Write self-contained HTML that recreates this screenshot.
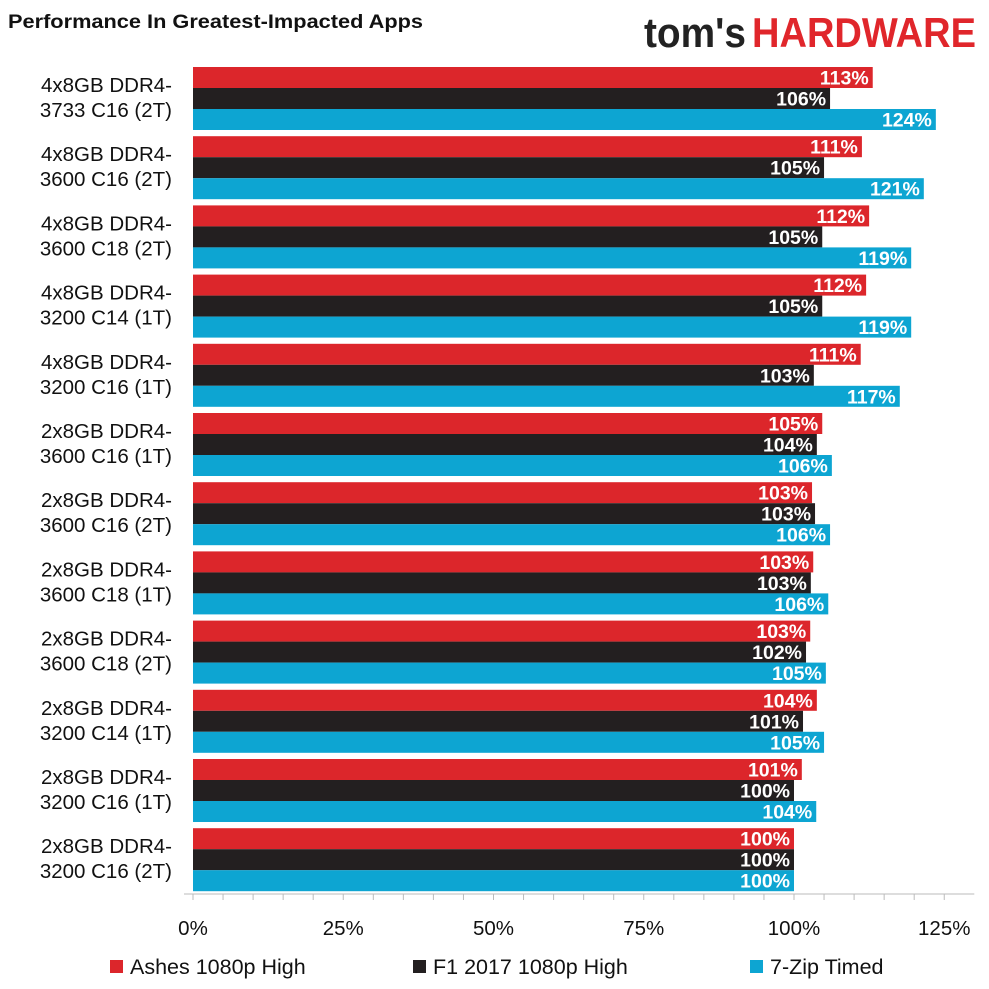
<!DOCTYPE html>
<html><head><meta charset="utf-8"><style>
body{margin:0;background:#fff;}
svg{display:block;font-family:"Liberation Sans",Calibri,sans-serif;}
</style></head><body>
<svg id="chart" width="989" height="989" viewBox="0 0 989 989" xmlns="http://www.w3.org/2000/svg">
<text x="8" y="28" font-size="19" font-weight="bold" fill="#111" textLength="415" lengthAdjust="spacingAndGlyphs">Performance In Greatest-Impacted Apps</text>
<g>
<text x="644" y="47" font-size="42" font-weight="bold" fill="#222" textLength="102" lengthAdjust="spacingAndGlyphs">tom's</text>
<text x="752" y="47" font-size="42" font-weight="bold" fill="#e0262b" textLength="224" lengthAdjust="spacingAndGlyphs">HARDWARE</text>
</g>
<g id="plot"></g>
</svg>
<script>
const categories=[["4x8GB DDR4-","3733 C16 (2T)"],["4x8GB DDR4-","3600 C16 (2T)"],["4x8GB DDR4-","3600 C18 (2T)"],["4x8GB DDR4-","3200 C14 (1T)"],["4x8GB DDR4-","3200 C16 (1T)"],["2x8GB DDR4-","3600 C16 (1T)"],["2x8GB DDR4-","3600 C16 (2T)"],["2x8GB DDR4-","3600 C18 (1T)"],["2x8GB DDR4-","3600 C18 (2T)"],["2x8GB DDR4-","3200 C14 (1T)"],["2x8GB DDR4-","3200 C16 (1T)"],["2x8GB DDR4-","3200 C16 (2T)"]];
const seriesNames=["Ashes 1080p High","F1 2017 1080p High","7-Zip Timed"];
const ashes=[113.1,111.3,112.5,112.0,111.1,104.7,103.0,103.2,102.7,103.8,101.3,100];
const f1=[106.0,105.0,104.7,104.7,103.3,103.8,103.5,102.8,102.0,101.5,100,100];
const zip=[123.6,121.6,119.5,119.5,117.6,106.3,106.0,105.7,105.3,105.0,103.7,100];
const ashesLabels=["113%","111%","112%","112%","111%","105%","103%","103%","103%","104%","101%","100%"];
const f1Labels=["106%","105%","105%","105%","103%","104%","103%","103%","102%","101%","100%","100%"];
const zipLabels=["124%","121%","119%","119%","117%","106%","106%","106%","105%","105%","104%","100%"];
const tickValues=[0,25,50,75,100,125];
const tickLabels=["0%","25%","50%","75%","100%","125%"];

const NS="http://www.w3.org/2000/svg";
const plot=document.getElementById('plot');
const x=v=>193+v*6.01;
const groupTop=i=>67+i*69.2;
const BH=21;
const colors=["#dc262b","#231f20","#0da5d2"];
const series=[ashes,f1,zip];
const labels=[ashesLabels,f1Labels,zipLabels];
function mk(tag,attrs){const e=document.createElementNS(NS,tag);for(const k in attrs)e.setAttribute(k,attrs[k]);plot.appendChild(e);return e;}

categories.forEach((c,i)=>{
  const t=mk('text',{x:172,y:groupTop(i)+25,'font-size':20.5,fill:'#111','text-anchor':'end'});
  
  
  t.innerHTML='<tspan x="172">'+c[0]+'</tspan><tspan x="172" dy="25">'+c[1]+'</tspan>';
  series.forEach((s,k)=>{
    const y=groupTop(i)+k*BH;
    const r=mk('rect',{x:x(0),y:y,width:x(s[i])-x(0),height:BH,fill:colors[k]});
    
    
    const l=mk('text',{x:x(s[i])-4,y:y+BH/2+7,'font-size':19.5,'font-weight':'bold',fill:'#fff','text-anchor':'end'});
    
    
    l.textContent=labels[k][i];
  });
});
const ax=mk('line',{x1:184,y1:894,x2:x(130),y2:894,stroke:'#bbb','stroke-width':1});


for(let v=0;v<=125;v+=5){mk('line',{x1:x(v),y1:894,x2:x(v),y2:900,stroke:'#bbb'});}
tickValues.forEach((v,i)=>{
  const t=mk('text',{x:x(v),y:935,'font-size':20.5,fill:'#111','text-anchor':'middle'});
  
  
  t.textContent=tickLabels[i];
});
const legX=[110,413,750];
seriesNames.forEach((n,k)=>{
  const r=mk('rect',{x:legX[k],y:960,width:13,height:13,fill:colors[k]});
  
  
  const t=mk('text',{x:legX[k]+20,y:974,'font-size':21.5,fill:'#111'});
  
  
  t.textContent=n;
});
</script>
</body></html>
